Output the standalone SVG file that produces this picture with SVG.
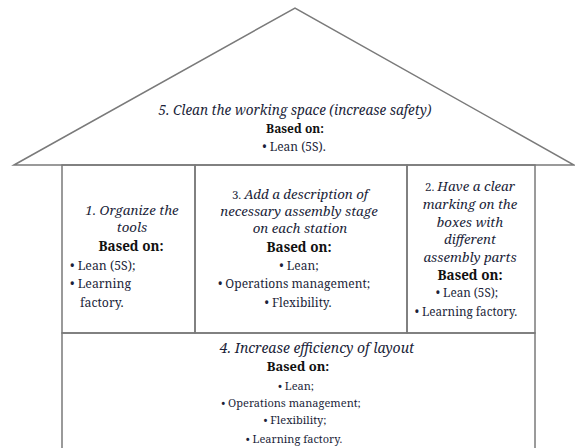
<svg xmlns="http://www.w3.org/2000/svg" width="575" height="448" viewBox="0 0 575 448">
<style>
.bg{fill:#ffffff}
.ln{fill:none;stroke:#7a7a7a;stroke-width:1.5}
text{font-family:'Noto Serif','DejaVu Serif',serif;fill:#1c1f3a}
.ti{font-style:italic;font-size:13.3px}
.up{font-style:normal;font-size:11.5px}
.b{font-weight:bold;font-size:13.5px;fill:#111}
.l{font-size:12px}
.m{text-anchor:middle}
</style>
<rect class="bg" x="0" y="0" width="575" height="448"/>
<g id="roof">
<polygon class="ln" points="14,165 295,8 574,165"/>
<text class="ti m" x="295" y="115" style="font-size:13.5px">5. Clean the working space (increase safety)</text>
<text class="b m" x="295" y="133" style="font-size:12px">Based on:</text>
<text class="l m" x="294" y="151">• Lean (5S).</text>
</g>
<g id="box1">
<rect class="ln" x="62" y="165" width="133" height="168"/>
<text class="ti m" x="132" y="215">1. Organize the</text>
<text class="ti m" x="132" y="232">tools</text>
<text class="b m" x="131" y="251">Based on:</text>
<text class="l" x="70" y="270" style="font-size:12.3px">• Lean (5S);</text>
<text class="l" x="70" y="288" style="font-size:12.3px">• Learning</text>
<text class="l" x="80" y="307" style="font-size:12.3px">factory.</text>
</g>
<g id="box3">
<rect class="ln" x="195" y="165" width="212" height="168"/>
<text class="ti m" x="300" y="199"><tspan class="up">3. </tspan>Add a description of</text>
<text class="ti m" x="299" y="216">necessary assembly stage</text>
<text class="ti m" x="300" y="233">on each station</text>
<text class="b m" x="299" y="252">Based on:</text>
<text class="l m" x="299" y="270">• Lean;</text>
<text class="l m" x="294" y="288">• Operations management;</text>
<text class="l m" x="298" y="307">• Flexibility.</text>
</g>
<g id="box2">
<rect class="ln" x="407" y="165" width="128" height="168"/>
<text class="ti m" x="470" y="191"><tspan class="up">2. </tspan>Have a clear</text>
<text class="ti m" x="470" y="209">marking on the</text>
<text class="ti m" x="470" y="227">boxes with</text>
<text class="ti m" x="470" y="244">different</text>
<text class="ti m" x="470" y="262">assembly parts</text>
<text class="b m" x="470" y="280">Based on:</text>
<text class="l m" x="467" y="297" style="font-size:11.7px">• Lean (5S);</text>
<text class="l m" x="466" y="316" style="font-size:11.7px">• Learning factory.</text>
</g>
<g id="box4">
<rect class="ln" x="62" y="333" width="473" height="120"/>
<text class="ti m" x="317" y="353" style="font-size:14px">4. Increase efficiency of layout</text>
<text class="b m" x="298" y="371" style="font-size:13px">Based on:</text>
<text class="l m" x="296" y="390" style="font-size:11px">• Lean;</text>
<text class="l m" x="291" y="407" style="font-size:11px">• Operations management;</text>
<text class="l m" x="295" y="424" style="font-size:11px">• Flexibility;</text>
<text class="l m" x="294" y="443" style="font-size:11px">• Learning factory.</text>
</g>
<g id="connectors"></g>
</svg>
